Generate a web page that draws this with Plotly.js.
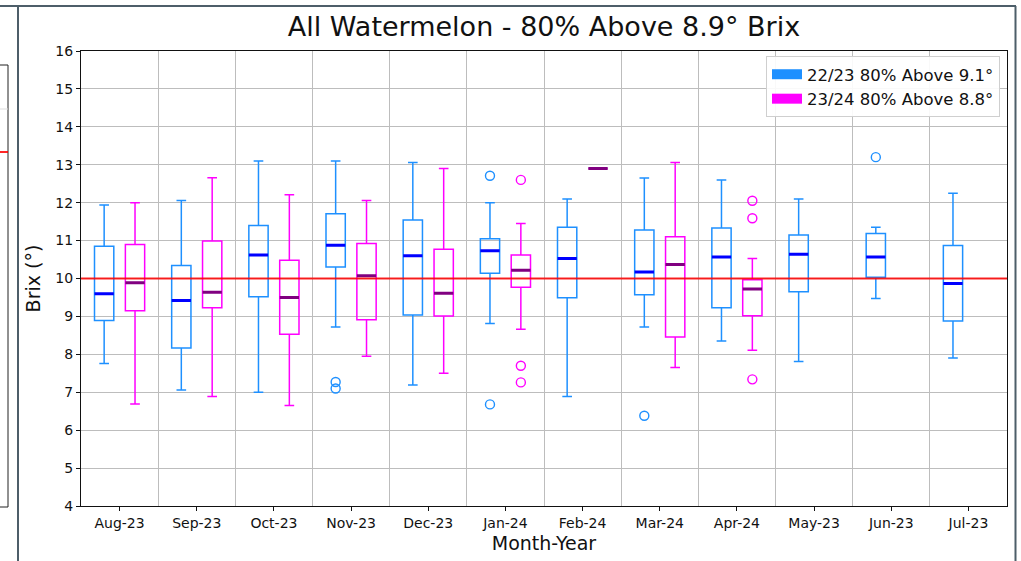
<!DOCTYPE html>
<html>
<head>
<meta charset="utf-8">
<script src="https://cdn.plot.ly/plotly-3.0.1.min.js"></script>
<style>
html,body{margin:0;padding:0;background:#fff;}
#chart{width:1021px;height:561px;}
</style>
</head>
<body>
<div id="chart"></div>
<script>
// ---- Data ----
const months = ['Aug-23','Sep-23','Oct-23','Nov-23','Dec-23','Jan-24','Feb-24','Mar-24','Apr-24','May-23','Jun-23','Jul-23'];

// 22/23 series (all 12 months)
const s1Name = '22/23 80% Above 9.1°';
const s1Months = ['Aug-23','Sep-23','Oct-23','Nov-23','Dec-23','Jan-24','Feb-24','Mar-24','Apr-24','May-23','Jun-23','Jul-23'];
const s1Lower  = [7.76, 7.06, 7.00, 8.72, 7.19, 8.81, 6.89, 8.72, 8.35, 7.81, 9.47, 7.90];
const s1Q1     = [8.89, 8.17, 9.52, 10.30, 9.04, 10.14, 9.49, 9.57, 9.23, 9.65, 10.03, 8.88];
const s1Median = [9.60, 9.42, 10.62, 10.88, 10.60, 10.73, 10.53, 10.17, 10.57, 10.64, 10.57, 9.87];
const s1Q3     = [10.85, 10.34, 11.40, 11.71, 11.54, 11.05, 11.35, 11.28, 11.33, 11.15, 11.19, 10.87];
const s1Upper  = [11.94, 12.06, 13.10, 13.10, 13.06, 12.00, 12.10, 12.65, 12.60, 12.10, 11.35, 12.25];
const s1OutMonths = ['Nov-23','Nov-23','Jan-24','Jan-24','Mar-24','Jun-23'];
const s1OutValues = [7.27, 7.10, 12.71, 6.68, 6.38, 13.20];

// 23/24 series (Aug-23 .. Apr-24)
const s2Name = '23/24 80% Above 8.8°';
const s2Months = ['Aug-23','Sep-23','Oct-23','Nov-23','Dec-23','Jan-24','Feb-24','Mar-24','Apr-24'];
const s2Lower  = [6.69, 6.89, 6.65, 7.95, 7.50, 8.66, 12.90, 7.65, 8.11];
const s2Q1     = [9.15, 9.23, 8.53, 8.91, 9.01, 9.77, 12.90, 8.46, 9.02];
const s2Median = [9.89, 9.64, 9.50, 10.07, 9.61, 10.22, 12.90, 10.37, 9.72];
const s2Q3     = [10.90, 10.99, 10.48, 10.92, 10.77, 10.62, 12.90, 11.10, 9.97];
const s2Upper  = [12.00, 12.66, 12.21, 12.06, 12.90, 11.45, 12.90, 13.06, 10.53];
const s2OutMonths = ['Jan-24','Jan-24','Jan-24','Apr-24','Apr-24','Apr-24'];
const s2OutValues = [12.60, 7.70, 7.26, 12.05, 11.59, 7.34];

const thresholdValue = 10;
const yTicks = [4,5,6,7,8,9,10,11,12,13,14,15,16];

// ---- Styles ----
const FONT = 'DejaVu Sans, Liberation Sans, sans-serif';
const C1 = '#1e90ff', C1med = '#0000ff';
const C2 = '#ff00ff', C2med = '#800080';
const OFF = 0.2, BW = 0.25;

const pos = (list, off) => list.map(m => months.indexOf(m) + off);

function boxTrace(ms, lo, q1, med, q3, up, off, color) {
  return {
    type: 'box', x: pos(ms, off), lowerfence: lo, q1: q1, median: med, q3: q3, upperfence: up,
    width: BW, whiskerwidth: 0.5, line: {color: color, width: 1.5},
    fillcolor: 'rgba(0,0,0,0)', showlegend: false, hoverinfo: 'skip', boxpoints: false
  };
}
function medTrace(ms, med, off, color) {
  return {
    type: 'box', x: pos(ms, off), lowerfence: med, q1: med, median: med, q3: med, upperfence: med,
    width: BW, whiskerwidth: 0, line: {color: color, width: 3},
    fillcolor: 'rgba(0,0,0,0)', showlegend: false, hoverinfo: 'skip', boxpoints: false
  };
}
function outTrace(ms, vals, off, color) {
  return {
    type: 'scatter', mode: 'markers', x: pos(ms, off), y: vals,
    marker: {symbol: 'circle-open', size: 9, color: color, line: {width: 1.4, color: color}},
    showlegend: false, hoverinfo: 'skip'
  };
}
function legendTrace(name, color) {
  return {type: 'scatter', mode: 'lines', x: [null], y: [null], name: name,
          line: {color: color, width: 12}, hoverinfo: 'skip'};
}

const data = [
  boxTrace(s1Months, s1Lower, s1Q1, s1Median, s1Q3, s1Upper, -OFF, C1),
  boxTrace(s2Months, s2Lower, s2Q1, s2Median, s2Q3, s2Upper, OFF, C2),
  medTrace(s1Months, s1Median, -OFF, C1med),
  medTrace(s2Months, s2Median, OFF, C2med),
  outTrace(s1OutMonths, s1OutValues, -OFF, C1),
  outTrace(s2OutMonths, s2OutValues, OFF, C2),
  legendTrace(s1Name, C1),
  legendTrace(s2Name, C2)
];

// ---- Layout geometry (pixels of the 1021x561 picture) ----
const W = 1021, H = 561, L = 81, R = 1007, T = 51, B = 506;
const px = x => (x - L) / (R - L);
const py = y => (B - y) / (B - T);
const FRAME = '#4d5e69';

const boundaries = months.slice(0, -1).map((m, i) => i + 0.5);

const shapes = [
  // threshold line
  {type: 'line', xref: 'paper', x0: 0, x1: 1, yref: 'y', y0: thresholdValue, y1: thresholdValue,
   line: {color: 'rgba(255,0,0,0.85)', width: 2.2}, layer: 'above'},
  // surrounding frame of the screenshot
  {type: 'line', xref: 'paper', yref: 'paper', x0: px(0), x1: px(1016), y0: py(6), y1: py(6), line: {color: FRAME, width: 2}},
  {type: 'line', xref: 'paper', yref: 'paper', x0: px(18), x1: px(18), y0: py(6), y1: py(562), line: {color: FRAME, width: 2}},
  {type: 'line', xref: 'paper', yref: 'paper', x0: px(1015.5), x1: px(1015.5), y0: py(6), y1: py(562), line: {color: FRAME, width: 2}},
  // neighbouring figure fragment at the far left
  {type: 'rect', xref: 'paper', yref: 'paper', x0: px(-5), x1: px(8), y0: py(507), y1: py(65), line: {color: '#222', width: 1}},
  {type: 'line', xref: 'paper', yref: 'paper', x0: px(0), x1: px(8), y0: py(152), y1: py(152), line: {color: 'rgba(255,0,0,0.85)', width: 2}},
  {type: 'line', xref: 'paper', yref: 'paper', x0: px(0), x1: px(8), y0: py(109), y1: py(109), line: {color: '#ddd', width: 1}}
];

const layout = {
  width: W, height: H,
  margin: {l: L, r: W - R, t: T, b: H - B, pad: 0},
  paper_bgcolor: '#fff', plot_bgcolor: '#fff',
  font: {family: FONT, size: 14, color: '#111'},
  title: {text: 'All Watermelon - 80% Above 8.9° Brix', font: {family: FONT, size: 27, color: '#111'},
          x: 0.5, xref: 'paper', xanchor: 'center', y: 1 - 27/H, yref: 'container', yanchor: 'middle'},
  boxmode: 'overlay',
  xaxis: {
    range: [-0.5, months.length - 0.5], tickmode: 'array',
    tickvals: months.map((m, i) => i), ticktext: months,
    ticks: 'outside', ticklen: 4, tickcolor: '#111', showgrid: false, zeroline: false,
    showline: true, linecolor: '#111', linewidth: 1, mirror: true,
    tickfont: {family: FONT, size: 14, color: '#111'},
    minor: {tickmode: 'array', tickvals: boundaries, showgrid: true, gridcolor: '#bdbdbd', gridwidth: 1, ticks: ''},
    title: {text: 'Month-Year', font: {family: FONT, size: 19, color: '#111'}, standoff: 6}
  },
  yaxis: {
    range: [4, 16], tickmode: 'array', tickvals: yTicks,
    ticks: 'outside', ticklen: 4, tickcolor: '#111',
    showgrid: true, gridcolor: '#bdbdbd', gridwidth: 1, zeroline: false,
    showline: true, linecolor: '#111', linewidth: 1, mirror: true,
    tickfont: {family: FONT, size: 14, color: '#111'},
    title: {text: 'Brix (°)', font: {family: FONT, size: 19, color: '#111'}, standoff: 9}
  },
  legend: {
    x: px(1000), xanchor: 'right', y: py(56), yanchor: 'top',
    bgcolor: 'rgba(255,255,255,0.9)', bordercolor: '#cfcfcf', borderwidth: 1,
    font: {family: FONT, size: 16.5, color: '#111'}, tracegroupgap: 0
  },
  shapes: shapes,
  showlegend: true
};

Plotly.newPlot('chart', data, layout, {displayModeBar: false, staticPlot: true});
</script>
</body>
</html>
